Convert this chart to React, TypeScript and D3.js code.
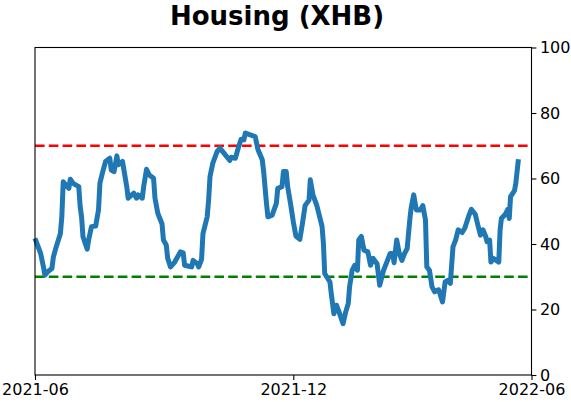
import React, { useEffect, useRef } from "react";
import * as d3 from "d3";

const dates = [
  "2021-06-01", "2021-06-05", "2021-06-07", "2021-06-08", "2021-06-10", "2021-06-13",
  "2021-06-14", "2021-06-16", "2021-06-19", "2021-06-20", "2021-06-21", "2021-06-23",
  "2021-06-25", "2021-06-26", "2021-06-28", "2021-07-02", "2021-07-03", "2021-07-04",
  "2021-07-05", "2021-07-08", "2021-07-09", "2021-07-11", "2021-07-14", "2021-07-16",
  "2021-07-17", "2021-07-19", "2021-07-21", "2021-07-24", "2021-07-25", "2021-07-27",
  "2021-07-29", "2021-07-30", "2021-08-02", "2021-08-03", "2021-08-05", "2021-08-06",
  "2021-08-10", "2021-08-12", "2021-08-13", "2021-08-16", "2021-08-17", "2021-08-19",
  "2021-08-21", "2021-08-24", "2021-08-25", "2021-08-27", "2021-08-30", "2021-08-31",
  "2021-09-02", "2021-09-03", "2021-09-05", "2021-09-08", "2021-09-12", "2021-09-14",
  "2021-09-15", "2021-09-18", "2021-09-20", "2021-09-21", "2021-09-24", "2021-09-25",
  "2021-09-27", "2021-09-28", "2021-10-01", "2021-10-02", "2021-10-03", "2021-10-05",
  "2021-10-08", "2021-10-10", "2021-10-12", "2021-10-17", "2021-10-18", "2021-10-21",
  "2021-10-23", "2021-10-25", "2021-10-27", "2021-10-28", "2021-10-31", "2021-11-04",
  "2021-11-06", "2021-11-09", "2021-11-10", "2021-11-12", "2021-11-13", "2021-11-16",
  "2021-11-19", "2021-11-20", "2021-11-23", "2021-11-24", "2021-11-26", "2021-11-27",
  "2021-11-29", "2021-12-01", "2021-12-03", "2021-12-06", "2021-12-08", "2021-12-10",
  "2021-12-13", "2021-12-14", "2021-12-16", "2021-12-19", "2021-12-23", "2021-12-24",
  "2021-12-25", "2021-12-29", "2021-12-30", "2022-01-01", "2022-01-03", "2022-01-05",
  "2022-01-08", "2022-01-10", "2022-01-12", "2022-01-13", "2022-01-15", "2022-01-17",
  "2022-01-19", "2022-01-20", "2022-01-22", "2022-01-24", "2022-01-27", "2022-01-29",
  "2022-01-31", "2022-02-03", "2022-02-05", "2022-02-08", "2022-02-10", "2022-02-13",
  "2022-02-15", "2022-02-16", "2022-02-18", "2022-02-20", "2022-02-22", "2022-02-24",
  "2022-02-26", "2022-02-28", "2022-03-01", "2022-03-03", "2022-03-05", "2022-03-08",
  "2022-03-10", "2022-03-12", "2022-03-13", "2022-03-15", "2022-03-17", "2022-03-19",
  "2022-03-22", "2022-03-23", "2022-03-25", "2022-03-27", "2022-03-29", "2022-03-31",
  "2022-04-02", "2022-04-04", "2022-04-06", "2022-04-09", "2022-04-11", "2022-04-14",
  "2022-04-16", "2022-04-19", "2022-04-21", "2022-04-23", "2022-04-25", "2022-04-27",
  "2022-04-28", "2022-04-30", "2022-05-01", "2022-05-03", "2022-05-05", "2022-05-07",
  "2022-05-08", "2022-05-09", "2022-05-12", "2022-05-14", "2022-05-15", "2022-05-16",
  "2022-05-19", "2022-05-20", "2022-05-22",
];

const values = [
  41.7, 37.1, 33, 30.5, 31.5, 32.5,
  36, 39.1, 43.2, 48.3, 59, 58,
  57, 59.8, 58.5, 57.5, 51.4, 48.3,
  42.2, 38.4, 41.2, 45.3, 45.5, 50.4,
  58.6, 62.1, 65.2, 66.2, 62.6, 62.1,
  66.9, 64.2, 65.2, 62.6, 57.5, 54,
  55.5, 54, 55, 54, 57.5, 62.8,
  61.1, 60.1, 54, 49.4, 46.1, 41.2,
  39.7, 35.6, 33, 34.5, 37.6, 37.3,
  33.5, 33.2, 33, 35, 34, 33,
  35.3, 43.2, 48.3, 53.4, 60.6, 64.7,
  68.2, 69.3, 68.2, 65.5, 66.5, 66.2,
  69.3, 72, 71.8, 73.9, 73.4, 72.8,
  68.8, 65.7, 62.1, 52.4, 48.3, 48.8,
  52.4, 57, 57.5, 62.1, 62.1, 57.5,
  52.4, 46.8, 42.4, 41.4, 46.3, 51.7,
  53.4, 59.6, 55, 51.7, 45.3, 40.2,
  31, 28.4, 24.9, 18.7, 21.3, 19.2,
  15.7, 19.2, 21.8, 26.9, 32, 33.5,
  32, 41.2, 42.3, 38.1, 37.6, 33.5,
  35.6, 34, 27.4, 32, 34, 37.1,
  37.1, 34.3, 41.2, 37.1, 35, 37.1,
  38.6, 47.3, 50.9, 55, 50.4, 50.4,
  51.7, 47.3, 33, 32, 26.9, 25.4,
  26, 24.9, 22.3, 28.4, 28.9, 28,
  39.1, 41.2, 44.3, 43.5, 44.8, 48.5,
  50.6, 49.1, 45.8, 42.7, 44.3, 42.3,
  40.7, 41.2, 34.5, 35.6, 35, 34.5,
  44.3, 47.8, 49.1, 50.6, 47.8, 54.5,
  56.3, 58.5, 65.9,
];

const xTickLabels = ["2021-06", "2021-12", "2022-06"];
const yTicks = [0, 20, 40, 60, 80, 100];
const upperLevel = 70;
const lowerLevel = 30;
const title = "Housing (XHB)";

const width = 571;
const height = 402;
const margin = { top: 47.5, right: 39.5, bottom: 27, left: 35 };

export default function App() {
  const ref = useRef<SVGSVGElement>(null);

  useEffect(() => {
    const svg = d3.select(ref.current!);
    svg.selectAll("*").remove();

    const parse = d3.timeParse("%Y-%m");
    const parseDay = d3.timeParse("%Y-%m-%d");
    const tickDates = xTickLabels.map((s) => parse(s)!);
    const data = dates.map((d, i) => ({ date: parseDay(d)!, value: values[i] }));

    // the source axis isn't evenly spaced in calendar time, so piecewise
    const x = d3
      .scaleTime()
      .domain(tickDates)
      .range([margin.left, 293.3, width - margin.right]);
    const y = d3
      .scaleLinear()
      .domain([0, 100])
      .range([height - margin.bottom, margin.top]);

    const x0 = margin.left;
    const x1 = width - margin.right;

    // reference lines
    svg
      .append("g")
      .selectAll("line")
      .data([
        { v: upperLevel, c: "#ff0000" },
        { v: lowerLevel, c: "#008000" },
      ])
      .join("line")
      .attr("x1", x0)
      .attr("x2", x1)
      .attr("y1", (d) => y(d.v))
      .attr("y2", (d) => y(d.v))
      .attr("stroke", (d) => d.c)
      .attr("stroke-width", 2.6)
      .attr("stroke-dasharray", "9.6,4.2");

    const line = d3
      .line<{ date: Date; value: number }>()
      .x((d) => x(d.date))
      .y((d) => y(d.value));

    svg
      .append("path")
      .datum(data)
      .attr("d", line)
      .attr("fill", "none")
      .attr("stroke", "#1f77b4")
      .attr("stroke-width", 5)
      .attr("stroke-linejoin", "round")
      .attr("stroke-linecap", "butt");

    // frame
    svg
      .append("rect")
      .attr("x", x0)
      .attr("y", margin.top)
      .attr("width", x1 - x0)
      .attr("height", height - margin.bottom - margin.top)
      .attr("fill", "none")
      .attr("stroke", "black")
      .attr("stroke-width", 1.1);

    // x axis
    svg
      .append("g")
      .attr("transform", `translate(0, ${height - margin.bottom})`)
      .call(
        d3
          .axisBottom(x)
          .tickValues(tickDates)
          .tickFormat((d, i) => xTickLabels[i])
          .tickSize(4.9)
          .tickPadding(3.5)
      )
      .call((g) => g.select(".domain").remove())
      .call((g) => g.selectAll(".tick line").attr("stroke-width", 1.1))
      .call((g) =>
        g
          .selectAll(".tick text")
          .attr("font-size", 16)
          .attr("font-family", "DejaVu Sans")
          .attr("fill", "black")
      );

    // y axis on the right
    svg
      .append("g")
      .attr("transform", `translate(${x1}, 0)`)
      .call(d3.axisRight(y).tickValues(yTicks).tickSize(4.9).tickPadding(3.5))
      .call((g) => g.select(".domain").remove())
      .call((g) => g.selectAll(".tick line").attr("stroke-width", 1.1))
      .call((g) =>
        g
          .selectAll(".tick text")
          .attr("font-size", 16)
          .attr("font-family", "DejaVu Sans")
          .attr("fill", "black")
      );

    svg
      .append("text")
      .attr("x", 277)
      .attr("y", 24.5)
      .attr("text-anchor", "middle")
      .attr("font-family", "DejaVu Sans")
      .attr("font-weight", "bold")
      .attr("font-size", 26)
      .text(title);
  }, []);

  return (
    <svg
      ref={ref}
      width={width}
      height={height}
      style={{ position: "absolute", left: 0, top: 0, background: "white" }}
    />
  );
}
